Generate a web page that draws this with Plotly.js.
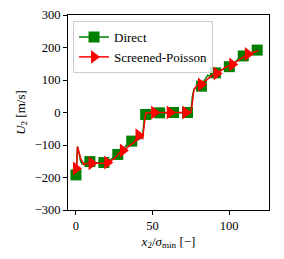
<!DOCTYPE html>
<html><head><meta charset="utf-8">
<script src="https://cdn.plot.ly/plotly-3.0.1.min.js"></script>
<style>html,body{margin:0;padding:0;background:#fff;}#chart{width:284px;height:259px;}</style>
</head><body><div id="chart"></div>
<script>
// Direct: line samples
const directLineX = [0,1,2,3,4,6,9,12,15,18,21,24,27,30,33,36,38,40,42,43.5,44.5,45.5,48,54.6,63.7,72.8,75,76,77,79,81.9,84,86,88,91,94,97,100,103,106,109,112,115,118.3];
const directLineY = [-192,-105,-125,-150,-158,-152,-151,-153,-156,-154,-150,-140,-129,-118,-100,-88,-95,-85,-80,-78,-20,-6,-2,-1,0,0,0,50,72,78,81,100,115,110,122,128,135,141,150,165,174,178,185,192];
// Direct: marker samples
const directMarkX = [0,9.1,18.2,27.3,36.4,45.5,54.6,63.7,72.8,81.9,91,100.1,109.2,118.3];
const directMarkY = [-192,-151,-154,-129,-88,-6,-1,0,0,81,122,141,174,192];
// Screened-Poisson: line samples
const spLineX = [0,0.5,1,2,3,5,7,10.2,14,17,20.4,23,26,28,30.6,33,36,38,40.8,42,43.5,44.5,45.5,48,51,61.2,71.4,75,76,77,79,81.6,84,87,89,91.8,95,98,102,105,108,112.2,115,119];
const spLineY = [-172,-170,-105,-120,-140,-160,-157,-156,-155,-157,-154,-148,-138,-125,-117,-110,-98,-92,-70,-78,-80,-40,-2,0,0,0,0,0,30,70,84,86,95,108,115,120,130,140,148,158,168,180,184,190];
// Screened-Poisson: marker samples
const spMarkX = [0,10.2,20.4,30.6,40.8,51,61.2,71.4,81.6,91.8,102,112.2];
const spMarkY = [-172,-156,-154,-117,-70,0,0,0,86,120,148,180];

const seriesNames = ['Direct','Screened-Poisson'];
const green = '#008000', red = '#ff0000';

const traces = [
  {x: directLineX, y: directLineY, mode:'lines', line:{color:green,width:1.5}, showlegend:false, hoverinfo:'skip'},
  {x: directMarkX, y: directMarkY, mode:'markers', marker:{symbol:'square',size:11,color:green}, showlegend:false},
  {x: spLineX, y: spLineY, mode:'lines', line:{color:red,width:1.5}, showlegend:false, hoverinfo:'skip'},
  {x: spMarkX, y: spMarkY, mode:'markers', marker:{symbol:'triangle-right',size:12,color:red}, showlegend:false},
  {x:[null], y:[null], mode:'lines+markers', name:seriesNames[0], line:{color:green,width:1.5}, marker:{symbol:'square',size:11,color:green}},
  {x:[null], y:[null], mode:'lines+markers', name:seriesNames[1], line:{color:red,width:1.5}, marker:{symbol:'triangle-right',size:12,color:red}}
];

const fam = 'Liberation Serif, serif';
const layout = {
  width:284, height:259,
  margin:{l:68, r:15, t:15, b:49},
  paper_bgcolor:'#fff', plot_bgcolor:'#fff',
  font: {family:fam, size:12, color:'#000'},
  showlegend:true,
  legend:{x:0.025, y:0.969, xanchor:'left', yanchor:'top', bgcolor:'rgba(255,255,255,0.8)', bordercolor:'#cccccc', borderwidth:1, font:{family:fam,size:13,color:'#000'}, tracegroupgap:0, itemwidth:30},
  xaxis:{range:[-5.2,126], tickvals:[0,50,100], ticks:'outside', ticklen:4, tickcolor:'#000', showline:true, linecolor:'#000', linewidth:1, mirror:true, showgrid:false, zeroline:false,
    tickfont:{family:fam,size:12.5},
    title:{text:'<i>x</i><sub>2</sub>/<i>σ</i><sub>min</sub> [−]', font:{family:fam,size:13}, standoff:4}},
  yaxis:{range:[-300,300], dtick:100, ticks:'outside', ticklen:4, tickcolor:'#000', showline:true, linecolor:'#000', linewidth:1, mirror:true, showgrid:false, zeroline:false,
    tickfont:{family:fam,size:12.5},
    title:{text:'<i>U</i><sub>2</sub> [m/s]', font:{family:fam,size:13}, standoff:6}}
};
Plotly.newPlot('chart', traces, layout, {staticPlot:true, displayModeBar:false});
</script></body></html>
